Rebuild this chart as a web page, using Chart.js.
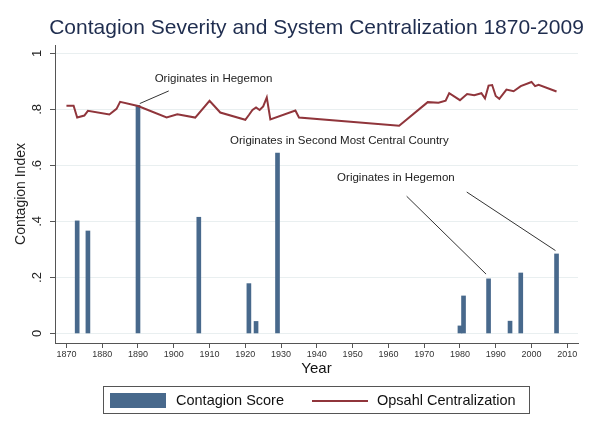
<!DOCTYPE html>
<html lang="en">
<head>
    <meta charset="UTF-8">
    <title>Contagion Severity and System Centralization</title>
    <style>
        body {
            margin: 0;
            background: #fff;
            font-family: "Liberation Sans", Arial, sans-serif;
        }
        .wrap {
            position: relative;
            width: 598px;
            height: 433px;
        }
        .legend {
            position: absolute;
            left: 103px;
            top: 386px;
            width: 425px;
            height: 26px;
            border: 1px solid #555;
            font-size: 14.5px;
            color: #111;
        }
        .legend .swatch {
            position: absolute;
            left: 6px;
            top: 6px;
            width: 56px;
            height: 15px;
            background: #48698c;
        }
        .legend .dash {
            position: absolute;
            left: 208px;
            top: 13px;
            width: 56px;
            height: 2px;
            background: #90353b;
        }
        .legend span {
            position: absolute;
            top: 5px;
            white-space: nowrap;
        }
    </style>
    <script src="https://cdn.jsdelivr.net/npm/chart.js"></script>
</head>
<body>
    <div class="wrap">
        <canvas id="chart" width="598" height="433"></canvas>
        <div class="legend">
            <div class="swatch"></div>
            <span style="left:72px">Contagion Score</span>
            <div class="dash"></div>
            <span style="left:273px">Opsahl Centralization</span>
        </div>
    </div>

    <script>
        // contagion episodes (bars)
        const barYears = [1873, 1876, 1890, 1907, 1921, 1923, 1929, 1980, 1981, 1988, 1994, 1997, 2007];
        const barScores = [0.402, 0.366, 0.815, 0.415, 0.178, 0.043, 0.644, 0.027, 0.134, 0.195, 0.044, 0.216, 0.284];

        // Opsahl centralization (line)
        const lineYears = [1870, 1872, 1873, 1875, 1876, 1882, 1884, 1885, 1890, 1898, 1901, 1906, 1910, 1913,
            1920, 1921, 1922, 1923, 1924, 1925, 1926, 1927, 1934, 1935, 1963, 1971, 1974, 1976, 1977,
            1980, 1982, 1984, 1986, 1987, 1988, 1989, 1990, 1991, 1993, 1995, 1997, 2000, 2001, 2002, 2007];
        const lineValues = [0.813, 0.813, 0.771, 0.778, 0.795, 0.782, 0.802, 0.827, 0.812, 0.771, 0.783, 0.771, 0.831, 0.789,
            0.763, 0.780, 0.798, 0.807, 0.798, 0.811, 0.843, 0.764, 0.796, 0.771, 0.742, 0.826, 0.824, 0.831, 0.858,
            0.833, 0.855, 0.851, 0.858, 0.839, 0.885, 0.887, 0.848, 0.838, 0.871, 0.865, 0.883, 0.898, 0.883, 0.888, 0.864];

        const xTicks = [1870, 1880, 1890, 1900, 1910, 1920, 1930, 1940, 1950, 1960, 1970, 1980, 1990, 2000, 2010];
        const yTicks = [0, 0.2, 0.4, 0.6, 0.8, 1];
        const yTickLabels = ['0', '.2', '.4', '.6', '.8', '1'];

        // text notes, anchored in data units
        const noteTexts = ['Originates in Hegemon', 'Originates in Second Most Central Country', 'Originates in Hegemon'];
        const noteAt = [[1911.1, 0.908], [1946.3, 0.687], [1962.1, 0.554]];
        const pointers = [
            [1890.5, 0.821, 1898.6, 0.866],
            [1965.1, 0.490, 1987.3, 0.212],
            [1981.9, 0.505, 2006.7, 0.296]
        ];

        const FONT = '"Liberation Sans", Arial, sans-serif';

        const extras = {
            id: 'extras',
            afterDraw(chart) {
                const ctx = chart.ctx;
                const xs = chart.scales.x, ys = chart.scales.y;
                const area = chart.chartArea;

                // title
                ctx.save();
                ctx.fillStyle = '#1f2d4f';
                ctx.font = '21px ' + FONT;
                ctx.textAlign = 'center';
                ctx.textBaseline = 'middle';
                ctx.fillText('Contagion Severity and System Centralization 1870-2009', (area.left + area.right) / 2, 28);

                // rotated y tick labels
                ctx.fillStyle = '#222';
                ctx.font = '13px ' + FONT;
                yTicks.forEach(function (v, i) {
                    ctx.save();
                    ctx.translate(37, ys.getPixelForValue(v));
                    ctx.rotate(-Math.PI / 2);
                    ctx.fillText(yTickLabels[i], 0, 0);
                    ctx.restore();
                });

                // y axis title
                ctx.save();
                ctx.font = '14px ' + FONT;
                ctx.translate(21, (area.top + area.bottom) / 2);
                ctx.rotate(-Math.PI / 2);
                ctx.fillText('Contagion Index', 0, 0);
                ctx.restore();

                // pointer lines
                ctx.strokeStyle = '#333';
                ctx.lineWidth = 1;
                pointers.forEach(function (p) {
                    ctx.beginPath();
                    ctx.moveTo(xs.getPixelForValue(p[0]), ys.getPixelForValue(p[1]));
                    ctx.lineTo(xs.getPixelForValue(p[2]), ys.getPixelForValue(p[3]));
                    ctx.stroke();
                });

                // notes
                ctx.fillStyle = '#222';
                ctx.font = '11.5px ' + FONT;
                noteTexts.forEach(function (t, i) {
                    ctx.fillText(t, xs.getPixelForValue(noteAt[i][0]), ys.getPixelForValue(noteAt[i][1]));
                });
                ctx.restore();
            }
        };

        new Chart(document.getElementById('chart'), {
            type: 'bar',
            data: {
                datasets: [
                    {
                        type: 'line',
                        label: 'Opsahl Centralization',
                        data: lineYears.map(function (y, i) { return { x: y, y: lineValues[i] }; }),
                        borderColor: '#90353b',
                        borderWidth: 2,
                        pointRadius: 0,
                        tension: 0,
                        order: 0
                    },
                    {
                        label: 'Contagion Score',
                        data: barYears.map(function (y, i) { return { x: y, y: barScores[i] }; }),
                        backgroundColor: '#48698c',
                        barThickness: 4,
                        order: 1
                    }
                ]
            },
            options: {
                responsive: false,
                animation: false,
                layout: { padding: { top: 45, right: 20, bottom: 55, left: 0 } },
                plugins: {
                    legend: { display: false },
                    tooltip: { enabled: false }
                },
                scales: {
                    x: {
                        type: 'linear',
                        offset: false,
                        min: 1866.8,
                        max: 2013,
                        afterBuildTicks: function (scale) {
                            scale.ticks = xTicks.map(function (v) { return { value: v }; });
                        },
                        afterFit: function (scale) { scale.height = 35; },
                        grid: {
                            drawOnChartArea: false,
                            offset: false,
                            tickLength: 5,
                            tickColor: '#555'
                        },
                        border: { color: '#555', width: 1 },
                        ticks: {
                            autoSkip: false,
                            maxRotation: 0,
                            padding: 1,
                            color: '#333',
                            font: { family: FONT, size: 9 },
                            callback: function (v) { return String(v); }
                        },
                        title: {
                            display: true,
                            text: 'Year',
                            color: '#111',
                            font: { family: FONT, size: 15 },
                            padding: { top: 0, bottom: 0 }
                        }
                    },
                    y: {
                        min: -0.034,
                        max: 1.03,
                        afterBuildTicks: function (scale) {
                            scale.ticks = yTicks.map(function (v) { return { value: v }; });
                        },
                        afterFit: function (scale) { scale.width = 55; },
                        grid: {
                            color: '#e9eff0',
                            tickColor: '#555',
                            tickLength: 5
                        },
                        border: { color: '#555', width: 1 },
                        ticks: { display: false }
                    }
                }
            },
            plugins: [extras]
        });
    </script>
</body>
</html>
